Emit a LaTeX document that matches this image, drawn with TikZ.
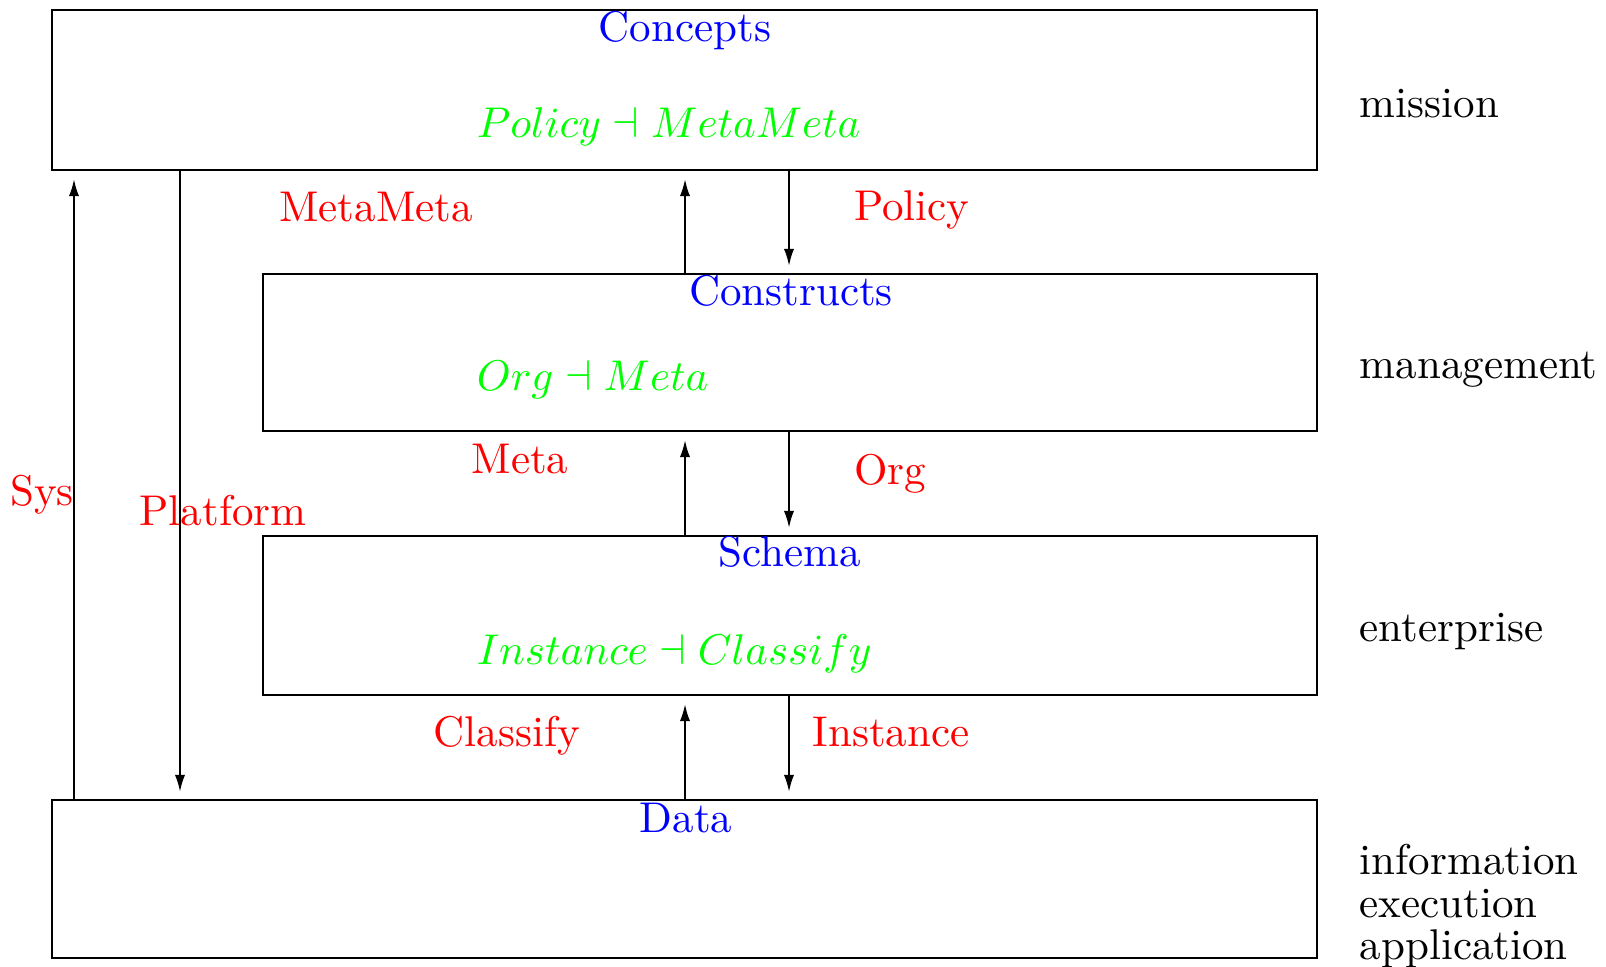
\documentclass[tikz,border=0pt]{standalone}
\usetikzlibrary{arrows.meta}
% one drawing unit
\newcommand\pxu{0.23256pt}
\begin{document}
\begin{tikzpicture}[x=\pxu, y=-\pxu,
  layer/.style={draw, line width=0.5pt, inner sep=0pt, outer sep=0pt, anchor=north west},
  flow/.style={-{Latex[length=4pt,width=2.4pt]}, line width=0.5pt},
  topic/.style={inner sep=0pt, anchor=base, text=blue},
  rel/.style={inner sep=0pt, anchor=base west, text=green},
  link/.style={inner sep=0pt, anchor=base, text=red},
  level/.style={inner sep=0pt, anchor=base west, text=black}]
\useasboundingbox (0,0) rectangle (1606,967);

% the four layers
\node[layer, minimum width={1265*\pxu}, minimum height={160*\pxu}] (concepts) at (52,10) {};
\node[layer, minimum width={1054*\pxu}, minimum height={157*\pxu}] (constructs) at (263,274) {};
\node[layer, minimum width={1054*\pxu}, minimum height={159*\pxu}] (schema) at (263,536) {};
\node[layer, minimum width={1265*\pxu}, minimum height={158*\pxu}] (data) at (52,800) {};

% columns of the connectors
\coordinate (sx) at (74,0);
\coordinate (px) at (180,0);
\coordinate (ux) at (685,0);
\coordinate (dx) at (789,0);

% layer titles and relations
\node[topic] (concepts-t) at (685,42) {Concepts};
\node[rel] (concepts-r) at (476,138) {$Policy \dashv MetaMeta$};
\node[topic] (constructs-t) at (791,306) {Constructs};
\node[rel] (constructs-r) at (476,391) {$Org \dashv Meta$};
\node[topic] (schema-t) at (790,567) {Schema};
\node[rel] (schema-r) at (476,665) {$Instance \dashv Classify$};
\node[topic] (data-t) at (686,832) {Data};

% levels
\node[level] (lv-mission) at (1359,118) {mission};
\node[level] (lv-management) at (1359,379) {management};
\node[level] (lv-enterprise) at (1359,642) {enterprise};
\node[level] (lv-information) at (1359,874) {information};
\node[level] (lv-execution) at (1359,917) {execution};
\node[level] (lv-application) at (1359,959) {application};

% connectors between layers
\draw[flow, shorten >={9*\pxu}] (data.north -| sx) -- (concepts.south -| sx);
\draw[flow, shorten >={8*\pxu}] (concepts.south -| px) -- (data.north -| px);
\draw[flow, shorten >={9*\pxu}] (constructs.north -| ux) -- (concepts.south -| ux);
\draw[flow, shorten >={8*\pxu}] (concepts.south -| dx) -- (constructs.north -| dx);
\draw[flow, shorten >={9*\pxu}] (schema.north -| ux) -- (constructs.south -| ux);
\draw[flow, shorten >={8*\pxu}] (constructs.south -| dx) -- (schema.north -| dx);
\draw[flow, shorten >={9*\pxu}] (data.north -| ux) -- (schema.south -| ux);
\draw[flow, shorten >={8*\pxu}] (schema.south -| dx) -- (data.north -| dx);

% connector labels
\node[link] (l-metameta) at (376,222) {MetaMeta};
\node[link] (l-policy) at (912,221) {Policy};
\node[link] (l-meta) at (520,474) {Meta};
\node[link] (l-org) at (890,485) {Org};
\node[link] (l-sys) at (42,506) {Sys};
\node[link] (l-platform) at (223,526) {Platform};
\node[link] (l-classify) at (507,747) {Classify};
\node[link] (l-instance) at (891,747) {Instance};
\end{tikzpicture}
\end{document}
